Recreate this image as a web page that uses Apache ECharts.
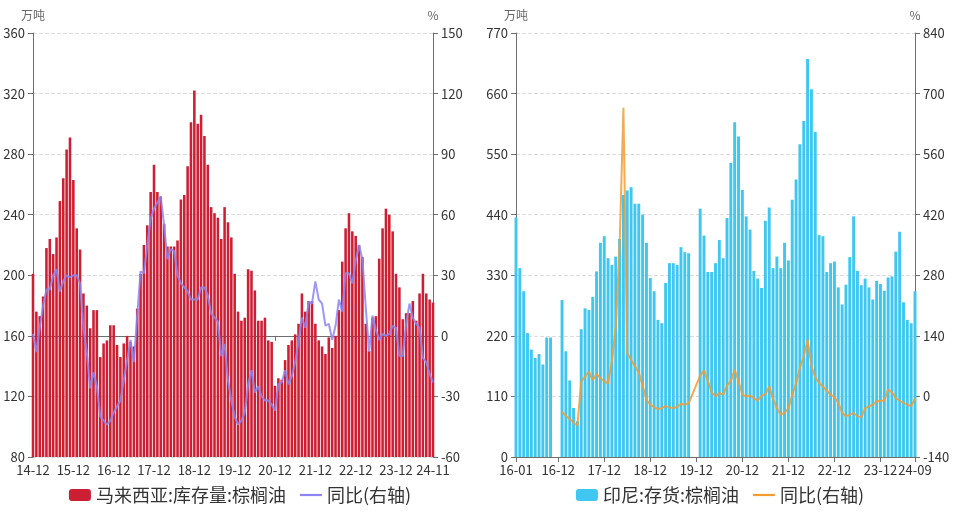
<!DOCTYPE html>
<html><head><meta charset="utf-8">
<script src="https://cdn.jsdelivr.net/npm/echarts/dist/echarts.min.js"></script>
<style>html,body{margin:0;padding:0;background:#fff;}#wrap{width:960px;height:513px;position:relative;}.c{position:absolute;top:0;width:480px;height:513px;}</style>
</head><body><div id="wrap"><div id="left" class="c" style="left:0"></div><div id="right" class="c" style="left:480px"></div></div>
<script>
// ---------- Left: Malaysia ----------
const myCategories = ['14-12',
'15-01','15-02','15-03','15-04','15-05','15-06','15-07','15-08','15-09','15-10','15-11','15-12',
'16-01','16-02','16-03','16-04','16-05','16-06','16-07','16-08','16-09','16-10','16-11','16-12',
'17-01','17-02','17-03','17-04','17-05','17-06','17-07','17-08','17-09','17-10','17-11','17-12',
'18-01','18-02','18-03','18-04','18-05','18-06','18-07','18-08','18-09','18-10','18-11','18-12',
'19-01','19-02','19-03','19-04','19-05','19-06','19-07','19-08','19-09','19-10','19-11','19-12',
'20-01','20-02','20-03','20-04','20-05','20-06','20-07','20-08','20-09','20-10','20-11','20-12',
'21-01','21-02','21-03','21-04','21-05','21-06','21-07','21-08','21-09','21-10','21-11','21-12',
'22-01','22-02','22-03','22-04','22-05','22-06','22-07','22-08','22-09','22-10','22-11','22-12',
'23-01','23-02','23-03','23-04','23-05','23-06','23-07','23-08','23-09','23-10','23-11','23-12',
'24-01','24-02','24-03','24-04','24-05','24-06','24-07','24-08','24-09','24-10','24-11'];
const myTickLabels = ['14-12','15-12','16-12','17-12','18-12','19-12','20-12','21-12','22-12','23-12','24-11'];
const myStock = [201,
176,173,186,218,224,214,225,249,264,283,291,263,
231,217,188,180,165,177,177,146,155,157,167,167,
154,146,155,160,156,153,178,201,220,233,255,273,
255,252,234,219,219,219,223,250,253,272,301,322,
300,306,292,273,245,241,238,224,245,235,225,201,
176,170,172,204,203,190,170,170,172,157,156,127,
132,131,144,154,157,161,168,188,176,183,183,168,
157,153,148,159,152,160,177,209,231,241,229,226,
220,212,168,150,172,173,211,231,244,240,229,201,
192,171,175,175,183,170,188,201,188,184,182];
const myYoY = [1,
-8,4,15,23,23,30,33,22,27,30,29,30,
30,26,4,-8,-26,-18,-25,-40,-42,-44,-42,-38,
-35,-32,-22,-12,-2,-13,10,32,31,45,58,63,
66,69,55,38,43,42,30,26,24,22,18,18,
18,24,24,20,11,9,7,-10,-4,-22,-32,-40,
-44,-42,-38,-24,-17,-28,-25,-30,-32,-32,-34,-37,
-24,-23,-17,-24,-20,-13,-3,9,4,17,16,27,
18,16,5,6,-2,5,18,12,31,31,26,37,
45,38,14,-8,10,3,-2,1,0,1,5,4,
-10,-10,6,16,9,6,4,-11,-13,-19,-23];

// ---------- Right: Indonesia ----------
const idCategories = [
'16-01','16-02','16-03','16-04','16-05','16-06','16-07','16-08','16-09','16-10','16-11','16-12',
'17-01','17-02','17-03','17-04','17-05','17-06','17-07','17-08','17-09','17-10','17-11','17-12',
'18-01','18-02','18-03','18-04','18-05','18-06','18-07','18-08','18-09','18-10','18-11','18-12',
'19-01','19-02','19-03','19-04','19-05','19-06','19-07','19-08','19-09','19-10','19-11','19-12',
'20-01','20-02','20-03','20-04','20-05','20-06','20-07','20-08','20-09','20-10','20-11','20-12',
'21-01','21-02','21-03','21-04','21-05','21-06','21-07','21-08','21-09','21-10','21-11','21-12',
'22-01','22-02','22-03','22-04','22-05','22-06','22-07','22-08','22-09','22-10','22-11','22-12',
'23-01','23-02','23-03','23-04','23-05','23-06','23-07','23-08','23-09','23-10','23-11','23-12',
'24-01','24-02','24-03','24-04','24-05','24-06','24-07','24-08','24-09'];
const idTickLabels = ['16-01','16-12','17-12','18-12','19-12','20-12','21-12','22-12','23-12','24-09'];
const idStock = [
435,343,301,225,195,180,187,168,217,217,null,null,
285,192,139,89,65,232,270,267,291,337,389,401,
361,349,364,396,476,484,490,460,460,440,389,325,
301,249,243,316,352,352,349,381,372,370,null,null,
451,402,336,336,352,394,361,434,534,608,582,485,
437,413,338,324,307,429,453,343,364,343,389,357,
467,504,568,610,723,668,590,403,401,336,352,355,
308,277,313,363,437,338,312,324,308,286,320,314,
302,326,328,373,409,281,249,243,301];
const idYoY = [
null,null,null,null,null,null,null,null,null,null,null,null,
-36,-45,-52,-61,-67,34,46,57,38,52,42,35,
30,82,160,345,667,100,85,70,55,25,-8,-19,
-25,-29,-27,-22,-26,-27,-24,-17,-19,-16,null,null,
48,60,36,10,0,8,4,25,36,62,35,4,
0,2,-4,-10,2,5,23,-6,-27,-42,-38,-27,
4,30,66,93,131,70,44,31,23,13,4,-2,
-15,-38,-46,-42,-38,-46,-48,-27,-23,-19,-11,-10,
-10,16,9,-4,-10,-15,-19,-22,-5];

const FONT = "'Microsoft YaHei','Noto Sans CJK SC',sans-serif";
const AXIS_COLOR = '#6e6e6e';
const LINE_ICON = 'path://M0,0H20V2H0Z';

function buildOption(cfg) {
  const axisLbl = {color:'#333', fontSize:13, fontFamily:FONT};
  return {
    animation:false,
    textStyle:{fontFamily:FONT},
    grid:{left:cfg.gridLeft, right:cfg.gridRight, top:33, bottom:56, containLabel:false, outerBoundsMode:'none'},
    legend:{
      show:true, left:'center', bottom:4, itemGap:14, itemWidth:22, itemHeight:12,
      textStyle:{fontSize:18, color:'#333', fontFamily:FONT},
      data:[{name:cfg.barName, icon:'roundRect'}, {name:'同比(右轴)', icon:LINE_ICON}]
    },
    xAxis:{
      type:'category', data:cfg.categories, boundaryGap:false,
      axisLine:{show:true, lineStyle:{color:AXIS_COLOR}},
      axisTick:{show:true, length:5, lineStyle:{color:AXIS_COLOR},
        interval:(i,v)=>cfg.ticks.includes(v)},
      axisLabel:Object.assign({}, axisLbl, {margin:7, hideOverlap:false,
        interval:(i,v)=>cfg.ticks.includes(v)}),
      splitLine:{show:false}
    },
    yAxis:[
      {type:'value', min:cfg.lMin, max:cfg.lMax, interval:cfg.lInt, position:'left',
       name:'万吨', nameLocation:'end', nameGap:12,
       nameTextStyle:{color:'#666', fontSize:12, fontFamily:FONT},
       axisLine:{show:true, lineStyle:{color:AXIS_COLOR}},
       axisTick:{show:true, length:5, lineStyle:{color:AXIS_COLOR}},
       axisLabel:Object.assign({}, axisLbl, {margin:8}),
       splitLine:{show:true, lineStyle:{color:'#dcdcdc', type:'dashed', width:1}}},
      {type:'value', min:cfg.rMin, max:cfg.rMax, interval:cfg.rInt, position:'right',
       name:'%', nameLocation:'end', nameGap:12,
       nameTextStyle:{color:'#666', fontSize:12, fontFamily:FONT},
       axisLine:{show:true, lineStyle:{color:AXIS_COLOR}},
       axisTick:{show:true, length:5, lineStyle:{color:AXIS_COLOR}},
       axisLabel:Object.assign({}, axisLbl, {margin:8}),
       splitLine:{show:false}}
    ],
    series:[
      {name:cfg.barName, type:'bar', yAxisIndex:0, data:cfg.bars,
       barCategoryGap:'24%', itemStyle:{color:cfg.barColor}, z:2},
      {name:'同比(右轴)', type:'line', yAxisIndex:1, data:cfg.line,
       symbol:'none', connectNulls:true, smooth:false,
       lineStyle:{color:cfg.lineColor, width:2, opacity:0.85},
       itemStyle:{color:cfg.lineColor}, z:3}
    ]
  };
}

const leftChart = echarts.init(document.getElementById('left'), null, {renderer:'canvas'});
leftChart.setOption(buildOption({
  gridLeft:33, gridRight:47, categories:myCategories, ticks:myTickLabels,
  lMin:80, lMax:360, lInt:40, rMin:-60, rMax:150, rInt:30,
  barName:'马来西亚:库存量:棕榈油', bars:myStock, line:myYoY,
  barColor:'#cc1f33', lineColor:'#8c86f2'
}));

const rightChart = echarts.init(document.getElementById('right'), null, {renderer:'canvas'});
rightChart.setOption(buildOption({
  gridLeft:36, gridRight:45, categories:idCategories, ticks:idTickLabels,
  lMin:0, lMax:770, lInt:110, rMin:-140, rMax:840, rInt:140,
  barName:'印尼:存货:棕榈油', bars:idStock, line:idYoY,
  barColor:'#3fc6f1', lineColor:'#f39c32'
}));
</script></body></html>
